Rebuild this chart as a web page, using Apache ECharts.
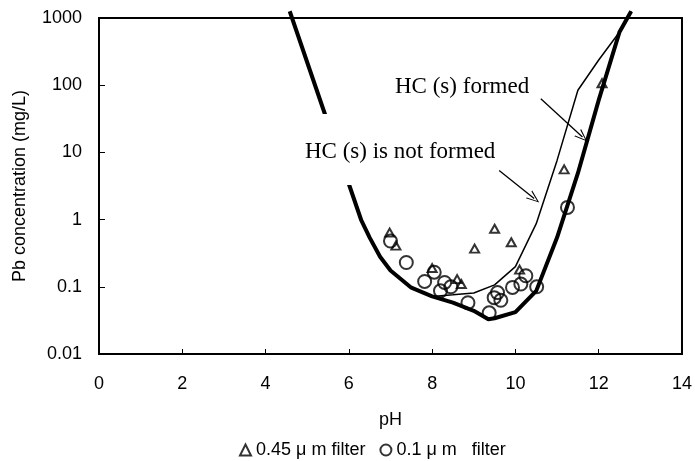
<!DOCTYPE html>
<html>
<head>
<meta charset="utf-8">
<script src="https://cdn.jsdelivr.net/npm/echarts@6/dist/echarts.min.js"></script>
<style>html,body{margin:0;padding:0;background:#fff}#c{width:695px;height:461px}</style>
</head>
<body>
<div id="c"></div>
<script>
// Thick line: HC(s) is not formed (solubility curve)
const curveNotFormed = [
  [4.58, 1260], [6.3, 0.97], [6.5, 0.54], [6.75, 0.28], [7, 0.175], [7.5, 0.097],
  [8, 0.072], [8.5, 0.058], [9, 0.044], [9.35, 0.033], [9.5, 0.034], [10, 0.042],
  [10.5, 0.087], [11, 0.54], [11.5, 4.9], [12, 60], [12.5, 620], [12.78, 1260]
];
// Thin line: HC(s) formed
const curveFormed = [
  [8, 0.072], [8.5, 0.076], [9, 0.081], [9.5, 0.107], [10, 0.2], [10.5, 0.87],
  [11, 7.6], [11.5, 84], [12, 237], [12.5, 620], [12.78, 1260]
];
// 0.45 um filter (triangles)
const filter045 = [
  [6.98, 0.64], [7.13, 0.41], [8.0, 0.19], [8.6, 0.13], [8.7, 0.11], [9.02, 0.37],
  [9.5, 0.73], [9.9, 0.46], [10.1, 0.18], [11.17, 5.6], [12.08, 107]
];
// 0.1 um filter (circles)
const filter01 = [
  [7.0, 0.48], [7.38, 0.23], [7.82, 0.12], [8.05, 0.165], [8.2, 0.087], [8.3, 0.116],
  [8.45, 0.10], [8.86, 0.058], [9.37, 0.041], [9.49, 0.069], [9.57, 0.082], [9.65, 0.063],
  [9.93, 0.098], [10.13, 0.11], [10.25, 0.146], [10.51, 0.10], [11.25, 1.52]
];
// Annotation arrows [from, to] in data coordinates
const arrowNotFormed = [[9.61, 5.4], [10.45, 2.06]];
const arrowFormed = [[10.61, 63], [11.61, 16.9]];
const xTicks = [0, 2, 4, 6, 8, 10, 12, 14];
const yTickLabels = ['0.01', '0.1', '1', '10', '100', '1000'];
const seriesNames = ['0.45 \u03bc m filter', '0.1 \u03bc m   filter'];
const annotations = ['HC (s) formed', 'HC (s) is not formed'];

const chart = echarts.init(document.getElementById('c'), null, {renderer: 'canvas'});
const sans = 'Liberation Sans';
const arrowHead = 'path://M5,0 L10,13 L8.8,13 L5,2.6 L1.2,13 L0,13 Z';

chart.setOption({
  animation: false,
  backgroundColor: '#fff',
  grid: {left: 99, right: 12, top: 18, bottom: 107, show: true, borderColor: '#000', borderWidth: 2, backgroundColor: 'transparent'},
  xAxis: {
    type: 'value', min: 0, max: 14, interval: 2,
    name: 'pH', nameLocation: 'middle', nameGap: 57,
    nameTextStyle: {fontFamily: sans, fontSize: 18, color: '#000'},
    axisLine: {lineStyle: {color: '#000', width: 2}},
    axisTick: {inside: true, length: 5, lineStyle: {color: '#000', width: 1}},
    axisLabel: {fontFamily: sans, fontSize: 18, color: '#000', margin: 21,
      formatter: v => xTicks.includes(v) ? String(v) : ''},
    splitLine: {show: false}
  },
  yAxis: {
    type: 'log', logBase: 10, min: 0.01, max: 1000,
    name: 'Pb concentration (mg/L)', nameLocation: 'middle', nameGap: 70,
    nameTextStyle: {fontFamily: sans, fontSize: 18, color: '#000'},
    axisLine: {lineStyle: {color: '#000', width: 2}},
    axisTick: {inside: true, length: 6, lineStyle: {color: '#000', width: 1}},
    axisLabel: {fontFamily: sans, fontSize: 18, color: '#000', margin: 17,
      formatter: v => {
        const idx = Math.round(Math.log10(v)) + 2;
        return yTickLabels[idx] !== undefined ? yTickLabels[idx] : '';
      }},
    splitLine: {show: false},
    minorTick: {show: false}
  },
  legend: {
    data: seriesNames,
    left: 234, top: 436,
    itemWidth: 11, itemHeight: 11, itemGap: 14,
    textStyle: {fontFamily: sans, fontSize: 18, color: '#000'}
  },
  series: [
    {
      type: 'line', name: 'notFormed', data: curveNotFormed, symbol: 'none', clip: false,
      lineStyle: {color: '#000', width: 4}, z: 3
    },
    {
      type: 'line', name: 'formed', data: curveFormed, symbol: 'none', clip: false,
      lineStyle: {color: '#000', width: 1.5}, z: 3,
      markLine: {
        silent: true, animation: false,
        symbol: ['none', arrowHead], symbolSize: [10, 13],
        label: {show: false},
        lineStyle: {color: '#000', width: 1.3, type: 'solid'},
        data: [
          [{coord: arrowNotFormed[0]}, {coord: arrowNotFormed[1]}],
          [{coord: arrowFormed[0]}, {coord: arrowFormed[1]}]
        ]
      }
    },
    {
      type: 'scatter', name: seriesNames[0], data: filter045, symbol: 'triangle', symbolSize: [9, 8],
      itemStyle: {color: 'transparent', borderColor: '#000', borderWidth: 2}, z: 4
    },
    {
      type: 'scatter', name: seriesNames[1], data: filter01, symbol: 'circle', symbolSize: 13,
      itemStyle: {color: 'transparent', borderColor: '#000', borderWidth: 2}, z: 4
    }
  ],
  graphic: {
    elements: [
      {type: 'rect', z: 50, silent: true, shape: {x: 300, y: 114, width: 198, height: 71}, style: {fill: '#fff'}},
      {type: 'text', z: 51, silent: true, x: 395, y: 87,
        style: {text: annotations[0], font: '23px "Liberation Serif"', fill: '#000', verticalAlign: 'middle', align: 'left'}},
      {type: 'text', z: 51, silent: true, x: 305, y: 152,
        style: {text: annotations[1], font: '23px "Liberation Serif"', fill: '#000', verticalAlign: 'middle', align: 'left'}}
    ]
  }
});
</script>
</body>
</html>
